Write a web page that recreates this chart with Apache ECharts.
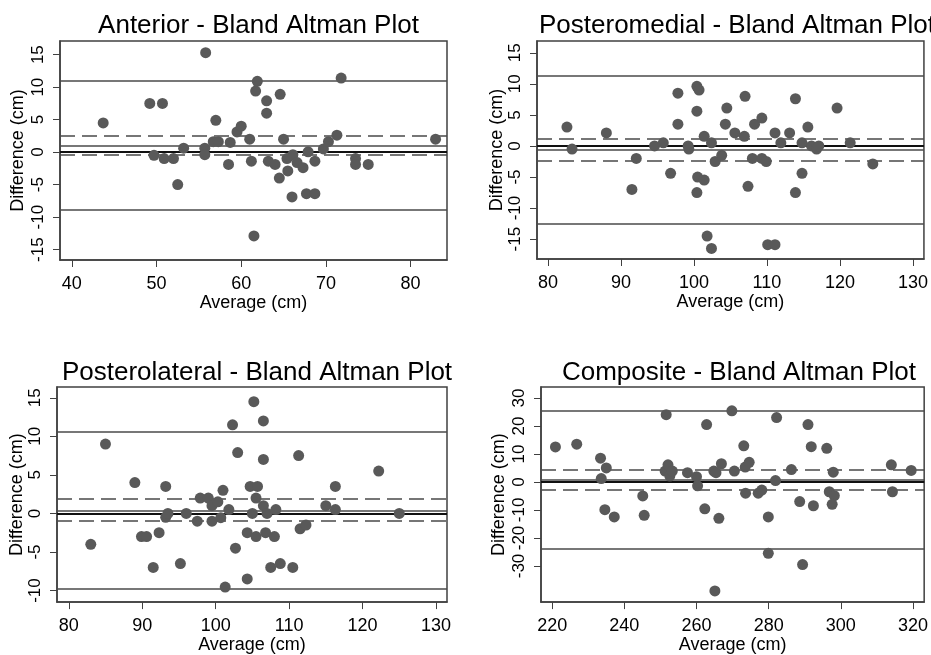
<!DOCTYPE html>
<html>
<head>
<meta charset="utf-8">
<script src="https://cdn.jsdelivr.net/npm/echarts@6/dist/echarts.min.js"></script>
<style>
  html, body { margin: 0; padding: 0; background: #fff; }
  #chart { width: 931px; height: 655px; }
</style>
</head>
<body>
<div id="chart"></div>
<script>
// Anterior
const antAvg = [43.7, 49.2, 50.7, 49.7, 50.9, 52.0, 52.5, 53.2, 55.8, 55.7, 55.7, 57.0, 56.7, 57.3, 58.5, 58.7, 59.5, 60.0, 61.0, 61.2, 61.5, 61.7, 61.9, 63.0, 63.0, 63.2, 64.0, 64.5, 64.6, 65.0, 65.4, 65.5, 66.0, 66.1, 66.6, 67.3, 67.7, 67.9, 68.7, 68.7, 69.7, 70.3, 71.3, 71.8, 73.5, 73.5, 75.0, 82.95];
const antDiff = [4.5, 7.5, 7.5, -0.5, -1, -1, -5, 0.6, 15.3, 0.6, -0.4, 4.9, 1.6, 1.6, -1.9, 1.5, 3.1, 4.0, 2.0, -1.4, -12.9, 9.4, 10.9, 7.9, 6.0, -1.4, -1.9, -4.0, 8.9, 2.0, -1.0, -2.9, -6.9, -0.4, -1.6, -2.4, -6.4, 0.05, -6.4, -1.4, 0.5, 1.6, 2.6, 11.4, -1.0, -1.9, -1.9, 2.0];
const antRef = [-8.94, -0.36, 1.03, 2.5, 11.05]; // lower LoA, CI low, mean, CI high, upper LoA

// Posteromedial
const pmAvg = [82.6, 83.3, 88.0, 92.1, 91.5, 94.6, 95.8, 96.8, 97.8, 97.8, 99.2, 99.3, 100.4, 100.7, 100.4, 100.5, 101.4, 100.4, 101.4, 102.4, 101.8, 102.4, 102.9, 103.8, 104.3, 104.5, 105.6, 106.9, 107.0, 107.4, 108.0, 108.3, 109.3, 109.3, 109.9, 110.1, 111.1, 111.1, 111.9, 113.1, 113.9, 113.9, 114.8, 114.8, 115.6, 116.1, 116.8, 117.1, 119.6, 121.4, 124.5];
const pmDiff = [3.05, -0.5, 2.1, -2.0, -7.0, 0, 0.5, -4.4, 8.5, 3.5, 0, -0.5, 9.6, 9.0, 5.6, -5.0, -5.5, -7.5, 1.55, 0.5, -14.5, -16.5, -2.5, -1.5, 3.5, 6.1, 2.1, 1.55, 8.0, -6.5, -2.0, 3.5, 4.5, -2.0, -2.5, -15.9, -15.9, 2.1, 0.5, 2.1, 7.6, -7.5, 0.5, -4.4, 3.05, 0, -0.5, 0, 6.1, 0.5, -2.9];
const pmRef = [-12.6, -2.35, -0.65, 1.2, 11.3];

// Posterolateral
const plAvg = [83.0, 85.0, 89.0, 89.9, 90.6, 91.5, 92.3, 93.2, 93.2, 93.5, 95.2, 96.0, 97.5, 97.9, 99.0, 99.5, 99.5, 100.3, 100.7, 101.0, 101.3, 101.8, 102.3, 103.0, 102.7, 104.3, 104.3, 104.7, 105.0, 105.2, 105.5, 105.5, 105.7, 106.5, 106.5, 106.5, 106.8, 107.0, 107.5, 108.0, 108.2, 108.8, 110.5, 111.3, 111.5, 112.3, 115.0, 116.3, 116.3, 122.2, 125.0];
const plDiff = [-4.0, 9.0, 4.0, -3.0, -3.0, -7.0, -2.5, 3.5, -0.5, 0, -6.5, 0, -1.0, 2.0, 2.0, -1.0, 1.0, 1.5, -0.55, 3.0, -9.55, 0.5, 11.5, 7.9, -4.5, -2.5, -8.5, 3.5, 0, 14.5, -3.0, 2.0, 3.5, 12.0, 7.0, 1.0, -2.5, 0, -7.0, -3.0, 0.5, -6.5, -7.0, 7.5, -2.0, -1.5, 1.0, 3.5, 0.5, 5.5, 0];
const plRef = [-9.8, -0.98, 0.4, 1.87, 10.57];

// Composite
const coAvg = [220.9, 226.8, 233.4, 233.6, 235.0, 234.6, 237.2, 245.1, 245.5, 251.6, 251.3, 252.1, 252.6, 253.3, 257.5, 260.0, 260.3, 262.3, 262.8, 264.8, 265.4, 265.1, 266.2, 266.9, 269.8, 270.5, 273.1, 273.5, 273.6, 274.6, 277.1, 278.1, 279.9, 279.9, 282.2, 281.9, 286.3, 288.6, 289.4, 290.9, 291.8, 292.4, 296.1, 296.8, 297.9, 298.2, 297.6, 314.0, 314.3, 319.5];
const coDiff = [12.5, 13.5, 8.5, 1.2, 5.0, -9.9, -12.5, -5.0, -11.9, 24.0, 3.9, 6.1, 2.1, 3.9, 3.3, 1.9, -1.4, -9.6, 20.5, 3.9, 3.3, -38.9, -13.0, 6.5, 25.4, 3.9, 12.9, 5.3, -4.0, 7.0, -4.0, -2.9, -12.5, -25.5, 23.0, 0.5, 4.4, -7.0, -29.5, 20.5, 12.6, -8.5, 12.0, -3.5, 3.5, -4.9, -8.0, 6.1, -3.5, 4.1];
const coRef = [-23.9, -2.7, 0.8, 4.3, 25.5];

// tick labels
const xTicks1 = [40, 50, 60, 70, 80];
const xTicks23 = [80, 90, 100, 110, 120, 130];
const xTicks4 = [220, 240, 260, 280, 300, 320];
const yTicks12 = [-15, -10, -5, 0, 5, 10, 15];
const yTicks3 = [-10, -5, 0, 5, 10, 15];
const yTicks4 = [-30, -20, -10, 0, 10, 20, 30];

const titles = ['Anterior - Bland Altman Plot', 'Posteromedial - Bland Altman Plot',
  'Posterolateral - Bland Altman Plot', 'Composite - Bland Altman Plot'];

const FONT = 'Liberation Sans, Arial, sans-serif';
const DOT = '#595959';
const LINE = '#4a4a4a';

const panels = [
  { avg: antAvg, diff: antDiff, ref: antRef, grid: { left: 60, top: 41, width: 387, height: 219 },
    x: [38.6, 84.3], y: [-16.6, 17.1], xt: xTicks1, yt: yTicks12, yGap: 33 },
  { avg: pmAvg, diff: pmDiff, ref: pmRef, grid: { left: 537, top: 41, width: 390, height: 218 },
    x: [78.5, 131.5], y: [-18.2, 16.9], xt: xTicks23, yt: yTicks12, yGap: 28 },
  { avg: plAvg, diff: plDiff, ref: plRef, grid: { left: 57, top: 387, width: 390, height: 219 },
    x: [78.4, 131.5], y: [-11.5, 16.4], xt: xTicks23, yt: yTicks3, yGap: 30 },
  { avg: coAvg, diff: coDiff, ref: coRef, grid: { left: 541, top: 387, width: 386, height: 219 },
    x: [216.9, 323.1], y: [-42.9, 33.9], xt: xTicks4, yt: yTicks4, yGap: 33 }
];

function refLines(ref) {
  const solid = { color: LINE, width: 1.5, type: 'solid' };
  const dash = { color: LINE, width: 1.5, type: [15, 7] };
  return [
    { yAxis: ref[0], lineStyle: solid },
    { yAxis: ref[1], lineStyle: dash },
    { yAxis: ref[2], lineStyle: solid },
    { yAxis: ref[3], lineStyle: dash },
    { yAxis: ref[4], lineStyle: solid },
    { yAxis: 0, lineStyle: { color: '#111', width: 2, type: 'solid' } }
  ];
}

const chart = echarts.init(document.getElementById('chart'), null, { renderer: 'canvas' });

const option = {
  animation: false,
  backgroundColor: '#fff',
  textStyle: { fontFamily: FONT },
  title: panels.map((p, i) => ({
    text: titles[i],
    left: p.grid.left + p.grid.width / 2,
    textAlign: 'center',
    top: i < 2 ? 8 : 355,
    textStyle: { fontFamily: FONT, fontSize: 26, fontWeight: 'normal', color: '#000' }
  })),
  grid: panels.map(p => Object.assign({ show: true, borderColor: '#404040', borderWidth: 1.5, backgroundColor: '#fff' }, p.grid)),
  xAxis: panels.map((p, i) => ({
    type: 'value', gridIndex: i, min: p.x[0], max: p.x[1],
    name: 'Average (cm)', nameLocation: 'middle', nameGap: 32,
    nameTextStyle: { fontFamily: FONT, fontSize: 18, color: '#000' },
    axisLine: { show: true, onZero: false, lineStyle: { color: '#404040', width: 1.5 } },
    axisTick: { show: true, length: 7, customValues: p.xt, lineStyle: { color: '#404040' } },
    axisLabel: { customValues: p.xt, fontFamily: FONT, fontSize: 18, color: '#000', margin: 15 },
    splitLine: { show: false }
  })),
  yAxis: panels.map((p, i) => ({
    type: 'value', gridIndex: i, min: p.y[0], max: p.y[1],
    name: 'Difference (cm)', nameLocation: 'middle', nameGap: p.yGap,
    nameTextStyle: { fontFamily: FONT, fontSize: 18, color: '#000' },
    axisLine: { show: true, onZero: false, lineStyle: { color: '#404040', width: 1.5 } },
    axisTick: { show: true, length: 7, customValues: p.yt, lineStyle: { color: '#404040' } },
    axisLabel: { customValues: p.yt, rotate: 90, fontFamily: FONT, fontSize: 17, color: '#000', margin: 13 },
    splitLine: { show: false }
  })),
  series: panels.map((p, i) => ({
    type: 'scatter', xAxisIndex: i, yAxisIndex: i,
    symbolSize: 11,
    itemStyle: { color: DOT, opacity: 1 },
    data: p.avg.map((a, k) => [a, p.diff[k]]),
    z: 3,
    markLine: {
      silent: true, symbol: 'none', label: { show: false }, z: 1,
      data: refLines(p.ref)
    }
  }))
};

chart.setOption(option);
</script>
</body>
</html>
